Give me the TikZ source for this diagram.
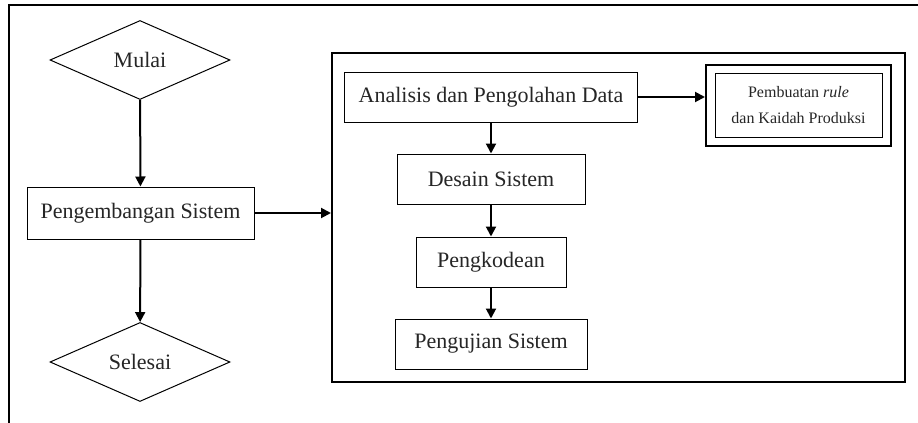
\documentclass[tikz,border=0pt]{standalone}
\usepackage{fontspec}
\setmainfont{Liberation Serif}
\usetikzlibrary{shapes.geometric}
\usetikzlibrary{arrows.meta}

\tikzset{
  kotak/.style={draw, line width=0.5pt, rectangle, inner sep=0pt,
    font=\fontsize{11}{13}\selectfont, text=black!85},
  belah/.style={draw, line width=0.5pt, diamond, aspect=2.3, inner sep=0pt,
    minimum width=90pt, minimum height=39.5pt,
    font=\fontsize{11}{13}\selectfont, text=black!85},
  panah/.style={line width=1pt, -{Triangle[length=5pt,width=5pt]}}
}

\begin{document}
\begin{tikzpicture}[x=0.5pt,y=-0.5pt]
    % batas gambar
    \clip (0,0) rectangle (918,423);
    \fill[white] (0,0) rectangle (918,423);
    \draw[line width=1pt] (9,5) rectangle (940,450);

    % alur utama
    \node[belah] (mulai) at (140,60) {Mulai};
    \node[kotak, minimum width=113.5pt, minimum height=26pt] (ps) at (140.5,213) {Pengembangan Sistem};
    \node[belah] (selesai) at (140,362) {Selesai};

    % wadah tahap pengembangan
    \node[draw, line width=1pt, minimum width=286.5pt, minimum height=164.5pt, inner sep=0pt] (wadah) at (618.5,217.5) {};

    % tahap-tahap pengembangan
    \node[kotak, minimum width=146.5pt, minimum height=25pt] (analisis) at (491,97) {Analisis dan Pengolahan Data};
    \node[kotak, minimum width=94pt, minimum height=25pt] (desain) at (491,179) {Desain Sistem};
    \node[kotak, minimum width=75pt, minimum height=25pt] (kode) at (491,262) {Pengkodean};
    \node[kotak, minimum width=96pt, minimum height=25pt] (uji) at (491,344) {Pengujian Sistem};

    % kotak rule
    \node[draw, line width=1pt, minimum width=92.5pt, minimum height=40.5pt, inner sep=0pt] (ruleluar) at (798.5,105.5) {};
    \node[kotak, minimum width=83.5pt, minimum height=32pt, align=center,
      font=\fontsize{8}{13}\selectfont] (rule) at (ruleluar) {Pembuatan \textit{rule}\\dan Kaidah Produksi};

    % panah
    \draw[panah] (mulai) -- (ps);
    \draw[panah] (ps) -- (selesai);
    \draw[panah] (ps.east) -- (ps.east -| wadah.west);
    \draw[panah] (analisis) -- (desain);
    \draw[panah] (desain) -- (kode);
    \draw[panah] (kode) -- (uji);
    \draw[panah] (analisis.east) -- (analisis.east -| ruleluar.west);
\end{tikzpicture}
\end{document}
